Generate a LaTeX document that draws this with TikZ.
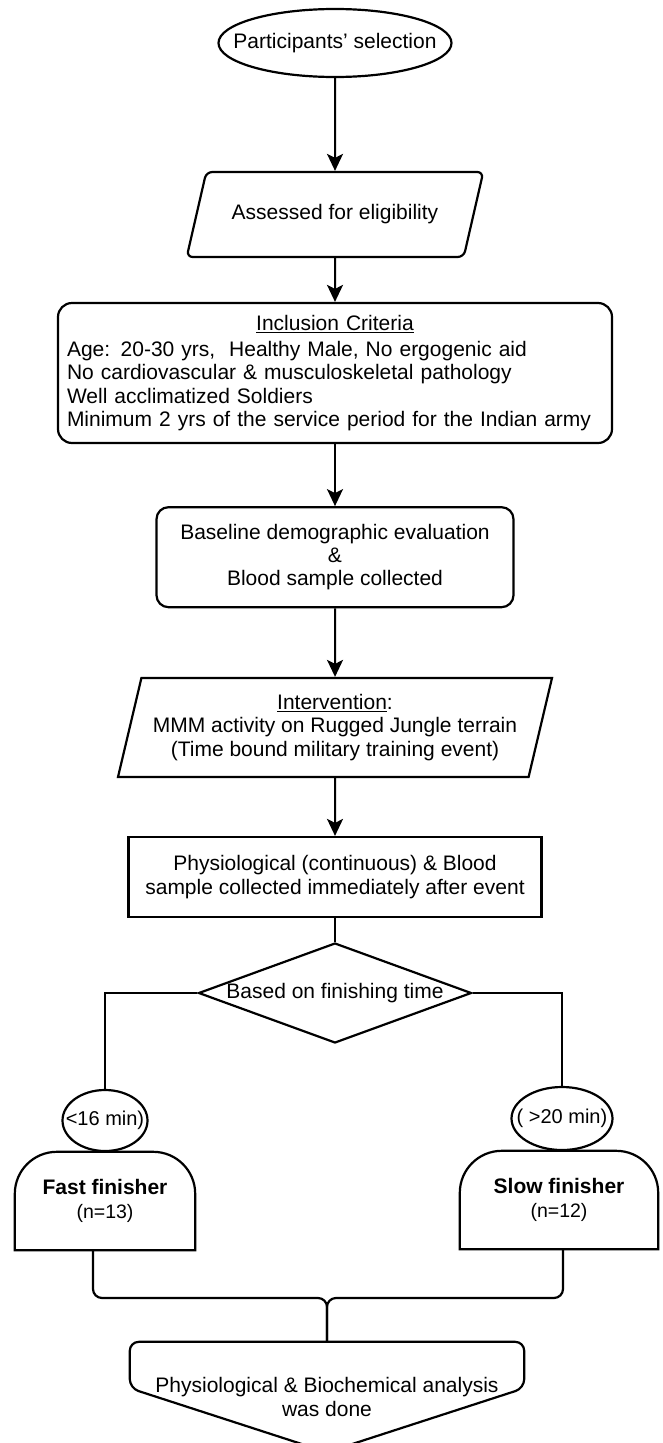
\documentclass[tikz,border=0pt]{standalone}
\usepackage{fontspec}
\setmainfont{Liberation Sans}
\usetikzlibrary{shapes.geometric}
\usetikzlibrary{arrows.meta}
\usetikzlibrary{positioning}

\newcommand{\ctext}[1]{\makebox[0pt]{#1}}

\tikzset{
  every node/.style={font=\fontsize{21}{23.3}\selectfont},
  term/.style={ellipse, draw, line width=2.2pt, inner sep=0pt},
  io/.style={trapezium, draw, line width=2.2pt, trapezium stretches=true, inner sep=0pt, align=center},
  proc/.style={rectangle, draw, line width=2.2pt, align=center},
  decision/.style={diamond, draw, line width=2.2pt, inner sep=0pt},
  group/.style={inner sep=0pt, align=center, minimum height=98pt},
  arr/.style={-{Stealth[length=17pt,width=16pt,inset=4pt]}, line width=2pt},
  conn/.style={line width=2.2pt},
}

\begin{document}
\begin{tikzpicture}[x=1pt, y=-1pt]
    \useasboundingbox (0,0) rectangle (663,1443);
    \node[term, minimum width=233pt, minimum height=68pt] (sel) at (335,43) {\ctext{Participants' selection}} ; %
    \node[io, trapezium left angle=51.3, trapezium right angle=128.7, minimum width=297pt, minimum height=85pt, rounded corners=6pt] (elig) at (335,214.5) {Assessed for eligibility} ; %
    \node[proc, rounded corners=14pt, minimum width=554pt, minimum height=140pt, inner xsep=0pt, text width=536pt, align=left] (incl) at (335,373) {\hfill\underline{Inclusion Criteria}\hfill\null\\[3pt]
      Age: 20-30 yrs,\ \ Healthy Male, No ergogenic aid\\
      No cardiovascular \& musculoskeletal pathology\\
      Well acclimatized Soldiers\\
      Minimum 2 yrs of the service period for the Indian army} ; %
    \node[proc, rounded corners=12pt, minimum width=357pt, minimum height=100pt, below=62pt of incl] (base) {Baseline demographic evaluation\\\&\\Blood sample collected} ; %
    \node[io, trapezium left angle=71.6, trapezium right angle=108.4, minimum width=435.5pt, minimum height=99pt] (interv) at (335,727.5) {\underline{Intervention}:\\MMM activity on Rugged Jungle terrain\\(Time bound military training event)} ; %
    \node[proc, minimum width=413pt, minimum height=80pt] (phys) at (335,877) {Physiological (continuous) \& Blood\\sample collected immediately after event} ; %
    \node[decision, minimum width=273pt, minimum height=100pt] (decide) at (335,993) {\ctext{Based on finishing time}} ; %
    \node[term, minimum width=85pt, minimum height=61pt, font=\fontsize{20}{23}\selectfont] (fastlim) at (105,1120.5) {\ctext{<16 min)}} ; %
    \node[term, minimum width=101pt, minimum height=63pt, font=\fontsize{20}{23}\selectfont] (slowlim) at (562,1118.5) {\ctext{( >20 min)}} ; %
    \node[group, minimum width=180pt] (fast) at (105,1201) {\textbf{Fast finisher}\\{\fontsize{19.5}{22}\selectfont (n=13)}} ; %
    \node[group, minimum width=198pt] (slow) at (559,1200) {\textbf{Slow finisher}\\{\fontsize{19.5}{22}\selectfont (n=12)}} ; %
    \node[group, minimum width=394pt, minimum height=110pt] (result) at (327,1397) {Physiological \& Biochemical analysis\\was done} ; %
    \coordinate (join) at (327,1298) ; %
    % outlines of the finisher boxes and of the last box
    \draw[conn] (fast.south west) [rounded corners=42pt] -- (fast.north west) -- (fast.north east) [sharp corners] -- (fast.south east) -- cycle;
    \draw[conn] (slow.south west) [rounded corners=42pt] -- (slow.north west) -- (slow.north east) [sharp corners] -- (slow.south east) -- cycle;
    \draw[conn, rounded corners=9pt] (result.south) -- ([yshift=64pt]result.south west) -- (result.north west)
      -- (result.north east) -- ([yshift=64pt]result.south east) -- cycle;
    % connectors
    \draw[arr] (sel) -- (elig); \draw[arr] (elig) -- (incl); \draw[arr] (incl) -- (base);
    \draw[arr] (base) -- (interv); \draw[arr] (interv) -- (phys);
    \draw[conn] (phys) -- (decide);
    \draw[conn] (decide.west) -| (fastlim); \draw[conn] (decide.east) -| (slowlim);
    \draw[conn, rounded corners=9pt] ([xshift=-12pt]fast.south) |- (join) -- (result.north);
    \draw[conn, rounded corners=9pt] ([xshift=4pt]slow.south) |- (join) -- (result.north);
\end{tikzpicture}
\end{document}
